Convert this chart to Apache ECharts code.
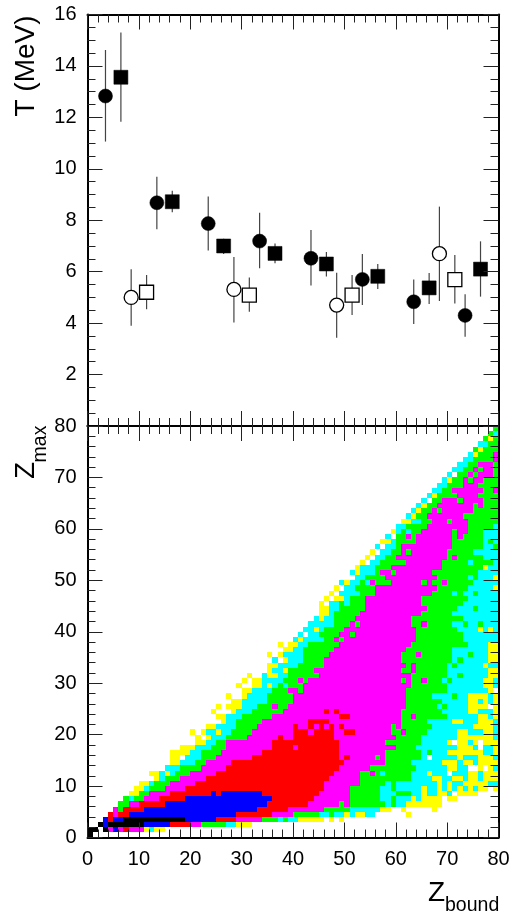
<!DOCTYPE html>
<html><head><meta charset="utf-8">
<script src="https://cdn.jsdelivr.net/npm/echarts@6/dist/echarts.min.js"></script>
<style>html,body{margin:0;padding:0;background:#fff}#c{width:514px;height:913px}</style>
</head><body><div id="c"></div>
<script>
// T(Zbound) points: [Zbound, T, low, high]
const filledCircles = [[3.5,12.83,11.06,14.62],[13.5,8.68,7.65,9.69],[23.5,7.87,6.82,8.92],[33.5,7.19,6.13,8.29],[43.5,6.52,5.46,7.62],[53.5,5.7,4.7,6.69],[63.5,4.83,3.97,5.7],[73.5,4.3,3.47,5.12]];
const filledSquares = [[6.5,13.56,11.83,15.3],[16.5,8.72,8.31,9.15],[26.5,7.0,6.69,7.28],[36.5,6.71,6.33,7.1],[46.5,6.3,5.81,6.77],[56.5,5.82,5.33,6.3],[66.5,5.37,4.74,5.95],[76.5,6.1,5.03,7.18]];
const openCircles = [[8.5,5.0,3.9,6.09],[28.5,5.31,4.02,6.57],[48.5,4.7,3.43,5.96],[68.5,6.7,4.86,8.53]];
const openSquares = [[11.5,5.2,4.54,5.87],[31.5,5.09,4.44,5.77],[51.5,5.09,4.32,5.87],[71.5,5.69,4.76,6.65]];
const xTicks = [0,10,20,30,40,50,60,70,80];
// Zmax vs Zbound occupancy, one string per Zmax row from 0 up.
// letter = colour level, number = first Zbound column of that run.
const levelColors = {y:'#ffff00',c:'#00ffff',g:'#00ff00',m:'#ff00ff',r:'#ff0000',b:'#0000ff',k:'#000000'};
const zmaxRows = [
"k0w1",
"k0w2k3m4b5m6r7m8y11c12y13w15",
"k2b3k4b11r16m20g22c27y29w32",
"b3r4b5k7b19r25m29g34c37g38c39y41w46y47w48y49w50",
"r4m5r6b8r29m36g40c45g47c48y50c51y52c54w56y62w63",
"m5g6r7b11r33m39g46c51y57w59y61w62y67w68",
"g6m8r10b15r35m43g49m50g51c58g59c60y62w69",
"g7c8g9m11r14b19r36m44g51c57g59c60y63c64y65w69y70w72",
"y8g10m12r16b24r25b26r34m45g51c57g60c63y65c66y68c70w71y72w76",
"y9c11g12m15r19m46g51c57g59c60y65c66y68c69y70c71y72c73y74c75y76w78y79",
"y10c12g13m16r21m46g53c58g59c60y68c69y70c71y73c78",
"y13c14g15m18r23m47g53c63y67c69y71c73y74c76y77",
"y12c14y15c16g17m20r25m48g53m55g56c57g58c63y66c67w70c71y74c76y77",
"c15g18m22r27m49g55c64y70c72w74y76w77y78c79",
"y16c18g21m23r28m50g58c63y69c72y73c75y76",
"y16w18c19g22m25r32m49r50m51g56m57g58c65w66c67y72c73y76c79",
"y16c20g22m26r34m49g58c65g66c67y70c77y79",
"y18c21g24m27r36m40r41m49g60c64y72c75w76c77y79",
"y21c23g25m27r36m49g58c65y70w71y72c74y75w76y77",
"y21w22y23c24g27m31r37m38r40m48g60c65y72c79",
"y20w21y22c23y25c26g28m32r40m43r44m48r50m52g59m61g62c66y72c74y77c79",
"y23c25g29m33r40m41r43m44r45m46r47m48r49m50g59m60g61c67y75c79",
"y26c27g29m34r43m47g61c66y71c73y76c79",
"y25c27g30m36r49m51g61m63g64c70y76c78y79",
"y24w25y28c29g32m38r46m47r48m49g61c69y74c76y79",
"y25w26y27c30g33m36g37m39g62c68g69c70y74w78y79",
"y28c30g35m40g62c69y74c76y77c78y79",
"y27w28y30c31g35m40g62c67g71c72y74c78y79",
"y30c32g36m39g41m42g62c70y78w79",
"y29w30y32c34y35c36g37c38g39m42g63c70y77c79",
"y30w31y32c34g38m41g42m43g61m62g63m65g66c69g70c71y77c79",
"y31w32c34y35c37g39m45g63c70g72c73y78",
"y35c36y38g39m44g61m63g64c70y78",
"y35c37g41m46g62m63g64c70g71c72y77c78",
"c36w37y38c39g42m46g61c71g72c73y78",
"y35w36y37c38g42m47g61m64g65c71g74c75y78",
"y38c40g42m48g62c71y78",
"y37w38y39c41g43m49g63c74y78",
"c40y41c42g46m48g49m50g64c73",
"c41w42c43g45m49g51m52g64c73",
"c42y44c45g46m50g64c72y76c77y78c79",
"c43g48m51g52m53g63m65g66c71g73c74g76c77",
"c44y45c46g48m52g63c73",
"y45c47g48m53g65c71",
"y45c47g49m54g66c72g75c76",
"y45w46c47g49c50g51m54g65c73",
"y46w47y48c50g51m54g65c74",
"y47w48c49g53m56g67c71g72c73g75c76",
"y48w49c50g52m56g68c74y79",
"c49y50c51g53c54m55g56m59g65m66g67m69g70c75",
"c52g54m58g68c74g75c76y79",
"c51y52c53g56m57g59m60g67c76",
"y52c53g56m59g69y77c78",
"y53w54c55g57m62g69c74g75c79",
"y54w55c56g58m60g70m71g72c77",
"y55w56c57g59m61g62m63g70c75",
"c56w57c58g60m61g71c77g79",
"y57c59g60m64g71c77g78c79",
"c58w59g60m62g63m64g71m72g73c77",
"y59c60g61c62g63m65g71m72g74c77",
"c60g62m66g74c79",
"y61c63g65m67g70m71g74",
"c62y63g64m66g73",
"c63y64g65m67g68m69g75",
"c64y65g66m68g75m76g77",
"c65w66g67m69g72m73g77",
"c66y67g68m72g76",
"c67g69m71g77m79",
"c68g70m73g76",
"c69y70g71m73g74m75g77",
"c70w71g72m74g75m76g79",
"c71g73m75g76m77g79",
"c72g74m76g79",
"c73g75m79",
"c74y75g76m79",
"g75y76g77",
"c76g78",
"g77y78g79",
"g78c79",
"g79"
];

const cells = [];
zmaxRows.forEach(function (s, row) {
  const runs = [...s.matchAll(/([a-z])(\d+)/g)].map(m => [m[1], +m[2]]);
  runs.forEach(function (run, i) {
    const end = i + 1 < runs.length ? runs[i + 1][1] : 80;
    if (run[0] === 'w') return;
    for (let col = run[1]; col < end; col++) cells.push([col, row, run[0]]);
  });
});

const font = '"Liberation Sans", Arial, sans-serif';
const ink = '#000';
function xAxis(grid, pos, labels) {
  return {type:'value', gridIndex:grid, position:pos, min:0, max:80, interval:10, z:6,
    axisLine:{show:true,onZero:false,lineStyle:{color:ink,width:2}},
    axisTick:{show:true,inside:true,length:15,lineStyle:{color:'#222',width:1}},
    minorTick:{show:true,splitNumber:5,length:8,lineStyle:{color:'#222',width:1}},
    splitLine:{show:false},minorSplitLine:{show:false},
    axisLabel:{show:labels,color:ink,fontFamily:font,fontSize:20,margin:12,hideOverlap:false,customValues:labels?xTicks:undefined}};
}
function yAxis(grid, pos, max, step, minors, labels, showMin) {
  return {type:'value', gridIndex:grid, position:pos, min:0, max:max, interval:step, z:6,
    axisLine:{show:true,onZero:false,lineStyle:{color:ink,width:2}},
    axisTick:{show:true,inside:true,length:15,lineStyle:{color:'#222',width:1}},
    minorTick:{show:true,splitNumber:minors,length:8,lineStyle:{color:'#222',width:1}},
    splitLine:{show:false},minorSplitLine:{show:false},
    axisLabel:{show:labels,color:ink,fontFamily:font,fontSize:20,margin:11,showMinLabel:showMin,showMaxLabel:true,hideOverlap:false}};
}
function errorBars(points) {
  return {type:'custom',xAxisIndex:0,yAxisIndex:0,z:3,silent:true,data:points,clip:false,
    renderItem:function(p,api){
      const a=api.coord([api.value(0),api.value(2)]), b=api.coord([api.value(0),api.value(3)]);
      return {type:'line',shape:{x1:a[0],y1:a[1],x2:b[0],y2:b[1]},style:{stroke:'#444',lineWidth:1.2}};
    }};
}
function markers(points, symbol, size, filled) {
  return {type:'scatter',xAxisIndex:0,yAxisIndex:0,z:4,symbol:symbol,symbolSize:size,silent:true,
    data:points.map(p=>[p[0],p[1]]),
    itemStyle:{color:filled?'#000':'#fff',borderColor:'#000',borderWidth:filled?0.5:1.3,opacity:1}};
}
const chart = echarts.init(document.getElementById('c'),null,{renderer:'canvas'});
chart.setOption({
  animation:false,
  backgroundColor:'#fff',
  grid:[{left:87.5,top:14.5,width:411,height:411.5},{left:87.5,top:426,width:411,height:411.5}],
  xAxis:[xAxis(0,'bottom',false),xAxis(0,'top',false),xAxis(1,'bottom',true),xAxis(1,'top',false)],
  yAxis:[yAxis(0,'left',16,2,4,true,false),yAxis(0,'right',16,2,4,false,false),
         yAxis(1,'left',80,10,5,true,true),yAxis(1,'right',80,10,5,false,false)],
  series:[
    errorBars(filledCircles),errorBars(filledSquares),errorBars(openCircles),errorBars(openSquares),
    markers(filledCircles,'circle',14,true),markers(filledSquares,'rect',14,true),
    markers(openCircles,'circle',14,false),markers(openSquares,'rect',14,false),
    {type:'custom',xAxisIndex:2,yAxisIndex:2,z:2,silent:true,clip:false,data:cells,
      encode:{x:0,y:1},
      renderItem:function(p,api){
        const a=api.coord([api.value(0),api.value(1)]), b=api.coord([api.value(0)+1,api.value(1)+1]);
        const x=Math.round(a[0]),y=Math.round(b[1]);
        return {type:'rect',shape:{x:x,y:y,width:Math.round(b[0])-x,height:Math.round(a[1])-y},
          style:{fill:levelColors[cells[p.dataIndex][2]]}};
      }}
  ],
  graphic:[
    {type:'text',x:26,y:66,rotation:Math.PI/2,style:{text:'T (MeV)',font:'28px '+font,fill:ink,textAlign:'center',textVerticalAlign:'middle'}},
    {type:'text',x:26,y:470.5,rotation:Math.PI/2,style:{text:'Z',font:'28px '+font,fill:ink,textAlign:'center',textVerticalAlign:'middle'}},
    {type:'text',x:41,y:444,rotation:Math.PI/2,style:{text:'max',font:'19.5px '+font,fill:ink,textAlign:'center',textVerticalAlign:'middle'}},
    {type:'text',x:428,y:893,style:{text:'Z',font:'28px '+font,fill:ink,textAlign:'left',textVerticalAlign:'middle'}},
    {type:'text',x:445,y:906,style:{text:'bound',font:'19.5px '+font,fill:ink,textAlign:'left',textVerticalAlign:'middle'}}
  ]
});
</script></body></html>
